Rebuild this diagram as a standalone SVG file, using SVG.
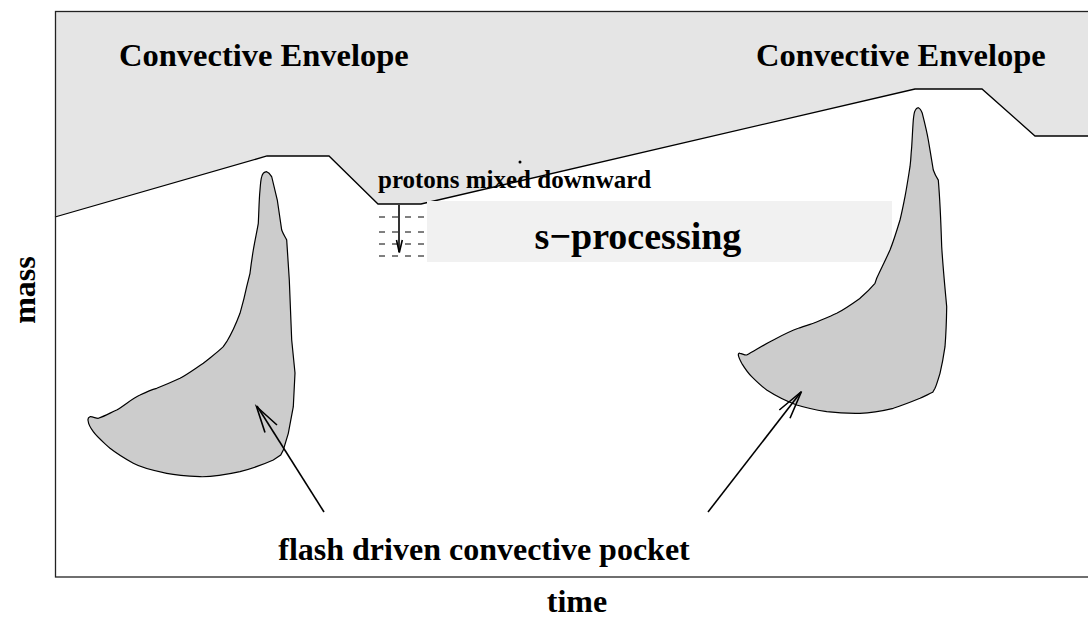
<svg xmlns="http://www.w3.org/2000/svg" width="1088" height="630" viewBox="0 0 1088 630">
<style>
.t{font-family:"Liberation Serif","Times New Roman",serif;font-weight:bold;fill:#000}
.edge{fill:none;stroke:#000;stroke-width:1.3}
.pocket{fill:#cccccc;stroke:#000;stroke-width:1.2}
.arr{fill:none;stroke:#000;stroke-width:1.6}
.dash{stroke:#000;stroke-width:1;stroke-dasharray:6,7}
</style>
<rect x="0" y="0" width="1088" height="630" fill="#fff"/>
<g id="envelope">
<polygon points="55,11 1088,11 1088,136 1035,136 982,89 915,89 421,204 378,204 329,156 267,156 55,217" fill="#e5e5e5"/>
<polyline class="edge" points="55,217 267,156 329,156 378,204 421,204 915,89 982,89 1035,136 1088,136"/>
</g>
<g id="s-processing">
<rect x="427" y="201" width="465" height="61" fill="#f1f1f1"/>
<text class="t" x="638" y="249" font-size="38" text-anchor="middle">s−processing</text>
</g>
<g id="mixing">
<line class="dash" x1="379" y1="217" x2="426" y2="217"/>
<line class="dash" x1="379" y1="232" x2="426" y2="232"/>
<line class="dash" x1="379" y1="244" x2="426" y2="244"/>
<line class="dash" x1="379" y1="256" x2="426" y2="256"/>
</g>
<g id="pocket-left">
<path class="pocket" d="M266.7,171.7 C270,173 271,176 271.7,176.7 L277.3,200 L281.7,230 C284,236 286,238 286.7,240 L289.3,280 L291.7,340 L295,373 L293.3,406.7 L288.3,433.3 L283.3,450 L280.7,455 L273.3,460 C260,466 250,469 240,471.7 C225,475 212,477 200,476.7 C185,476 175,475 166.7,473.3 C150,470 140,467 133.3,463.3 C122,457 116,453 110,448.3 C102,441 97,437 93.3,431.7 C90,427 88.5,424 88.3,421.7 C87.5,419 87.8,417.5 90,416.7 C93,416.5 96,418.5 98.3,418.3 C105,416 110,413 116.7,410 C125,405 133,398 140,395 C146,392 150,390 156.7,388.3 C165,385 172,382 180,378.3 C188,374 196,368 203.3,363.3 C211,357 218,352 223.3,346.7 L226.7,341.7 C232,333 236,324 240,313.3 C243,303 245,295 246.7,286.7 L250,273.3 C251,265 252,258 253.3,250 C255,240 257,231 258.3,223.3 C259,210 259,200 260,190 C260.5,183 261,179 261.7,176.7 C262.5,173.5 264,172 266.7,171.7 Z"/>
</g>
<g id="pocket-right">
<path class="pocket" d="M918.3,107.7 C920.5,108.5 921.5,111 922.3,113.3 C925,124 927,132 928.3,140 C930,150 932,162 933.3,170 C935,175 937,178 938.3,180 C940,200 941,225 941.7,246.7 C943,268 945,288 946.7,306.7 C946.5,320 946,334 945,346.7 C943.5,357 942,365 940,373.3 C938,380 936.5,385 935,388.3 L932.7,392.3 C928,394.5 924,396.5 920,398.3 C911,402 902,405.5 893.3,408.3 C882,411 871,413 860,413.3 C849,413.5 838,413 826.7,411.7 C816,410 806,408 796.7,405 C786,401 776,396 766.7,390 C761,386 756,381 751.7,376.7 C747,372 744,367 741.7,363.3 C740,360 738.5,357 738.3,355 C738.3,353.5 739,353 740,353.3 C742,353.5 744.5,355.3 746.7,355 C754,351 762,346 770,341.7 C779,337 789,331.5 798.3,328.3 C803,326.5 808,325 813.3,323.3 C821,320 829,317 836.7,313.3 C845,309 852,304 860,298.3 C866,293 871,288 875,283.3 L876.7,278.3 C881,269 886,259 890,250 C894,240 897,230 900,220 C902,212 903.5,204 905,196.7 C907,186 908.5,176 910,166.7 L910.7,160 C911,155 911.3,151 911.7,146.7 C912.3,137 912.7,128 913.3,120 C913.8,115 914.3,112 915,110.7 C916,108.5 917,107.8 918.3,107.7 Z"/>
</g>
<g id="frame">
<rect x="55.5" y="11.5" width="1040" height="565.5" fill="none" stroke="#222" stroke-width="1.3"/>
</g>
<g id="labels">
<text class="t" x="119" y="66" font-size="32.5">Convective Envelope</text>
<text class="t" x="756" y="66" font-size="32.5">Convective Envelope</text>
<text class="t" x="378" y="188" font-size="25">protons mixed downward</text>
<circle cx="520" cy="162" r="1.5" fill="#000"/>
<text class="t" x="484" y="560" font-size="32" text-anchor="middle">flash driven convective pocket</text>
<text class="t" x="577" y="612" font-size="32" text-anchor="middle">time</text>
<text class="t" font-size="32" text-anchor="middle" transform="translate(35,290) rotate(-90)">mass</text>
</g>
<g id="connectors">
<line class="arr" x1="399" y1="205" x2="399" y2="252"/>
<polyline class="arr" stroke-width="1" points="396.5,240 399.3,252.5 402.3,240"/>
<line class="arr" x1="324" y1="512" x2="257" y2="406"/>
<polyline class="arr" points="265,432.5 256.5,406.5 277,425"/>
<line class="arr" x1="708" y1="512" x2="801" y2="392"/>
<polyline class="arr" points="779.3,410 801.5,391.5 790,418.3"/>
</g>
</svg>
